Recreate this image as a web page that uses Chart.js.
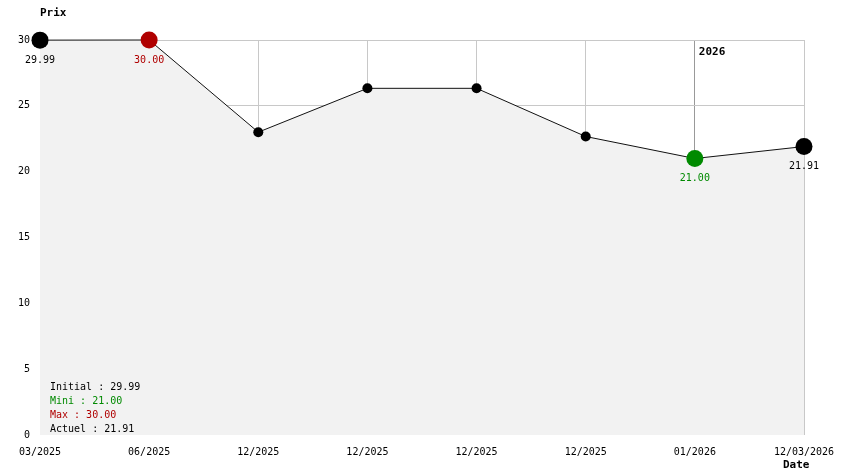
<!DOCTYPE html>
<html>
<head>
<meta charset="utf-8">
<script src="https://cdn.jsdelivr.net/npm/chart.js@4/dist/chart.umd.min.js"></script>
<style>
  html,body{margin:0;padding:0;background:#fff;}
  #wrap{width:844px;height:474px;position:relative;}
</style>
</head>
<body>
<div id="wrap"><canvas id="chartPrix" width="844" height="474"></canvas></div>
<script>
/***** DONNÉES *****/
const dateLabels = ["03/2025","06/2025","12/2025","12/2025","12/2025","12/2025","01/2026","12/03/2026"];
const prixValues = [29.99, 30.00, 23.00, 26.33, 26.33, 22.67, 21.00, 21.91];
const yTicks     = [0, 5, 10, 15, 20, 25, 30];
const legendLines = [
  { text: "Initial : 29.99", color: "#000" },
  { text: "Mini : 21.00",    color: "#008a00" },
  { text: "Max : 30.00",     color: "#b00000" },
  { text: "Actuel : 21.91",  color: "#000" }
];
// points annotés : index -> couleur
const marked = { 0: "#000", 1: "#b00000", 6: "#008a00", 7: "#000" };
const yearMarkIndex = 6, yearMarkText = "2026";

/***** STYLE *****/
const MONO = '"DejaVu Sans Mono", monospace';
const font10 = `10px ${MONO}`;
const bold11 = `bold 11px ${MONO}`;

const ptColor  = prixValues.map((_, i) => marked[i] || "#000");
const ptRadius = prixValues.map((_, i) => marked[i] ? 8.5 : 5);

/***** PLUGIN TEXTES *****/
const textPlugin = {
  id: "textes",
  afterDatasetsDraw(chart){
    const { ctx } = chart;
    const meta = chart.getDatasetMeta(0);
    ctx.save();
    // étiquettes des points
    ctx.font = font10;
    ctx.textAlign = "center";
    ctx.textBaseline = "top";
    for (const k of Object.keys(marked)){
      const p = meta.data[k];
      ctx.fillStyle = marked[k];
      ctx.fillText(prixValues[k].toFixed(2), p.x, p.y + 15);
    }
    // titres d'axes
    ctx.font = bold11;
    ctx.fillStyle = "#000";
    ctx.textAlign = "left";
    ctx.textBaseline = "alphabetic";
    ctx.fillText("Prix", 40, 16);
    ctx.fillText("Date", 783, 468);
    // année
    const xs = chart.scales.x.getPixelForValue(yearMarkIndex);
    ctx.fillText(yearMarkText, xs + 4, 55);
    // légende
    ctx.font = font10;
    legendLines.forEach((l, i) => {
      ctx.fillStyle = l.color;
      ctx.fillText(l.text, 50, 390 + i * 14);
    });
    ctx.restore();
  }
};

/***** GRAPHIQUE *****/
new Chart(document.getElementById("chartPrix"), {
  type: "line",
  data: {
    labels: dateLabels,
    datasets: [{
      data: prixValues,
      borderColor: "#111",
      borderWidth: 1,
      tension: 0,
      fill: "origin",
      backgroundColor: "#f2f2f2",
      clip: false,
      pointRadius: ptRadius,
      pointBackgroundColor: ptColor,
      pointBorderColor: ptColor,
      pointBorderWidth: 0
    }]
  },
  options: {
    responsive: false,
    animation: false,
    events: [],
    layout: { autoPadding: false, padding: { top: 40, right: 40, left: 0, bottom: 0 } },
    plugins: { legend: { display: false }, tooltip: { enabled: false } },
    scales: {
      x: {
        type: "category",
        offset: false,
        border: { display: false },
        grid: {
          drawTicks: false,
          color: c => c.index === yearMarkIndex ? "#999" : (c.index === 0 ? "rgba(0,0,0,0)" : "#c8c8c8"),
          lineWidth: 1
        },
        ticks: { font: { family: MONO, size: 10 }, color: "#000", padding: 11, maxRotation: 0, autoSkip: false },
        afterFit: s => { s.height = 39; s.paddingLeft = 0; s.paddingRight = 0; }
      },
      y: {
        min: 0, max: 30,
        border: { display: false },
        grid: { drawTicks: false, color: c => c.tick && c.tick.value === 0 ? "rgba(0,0,0,0)" : "#c8c8c8", lineWidth: 1 },
        ticks: { font: { family: MONO, size: 10 }, color: "#000", padding: 10, stepSize: 5,
                 callback: v => yTicks.includes(v) ? String(v) : "" },
        afterFit: s => { s.width = 40; }
      }
    }
  },
  plugins: [textPlugin]
});
</script>
</body>
</html>
